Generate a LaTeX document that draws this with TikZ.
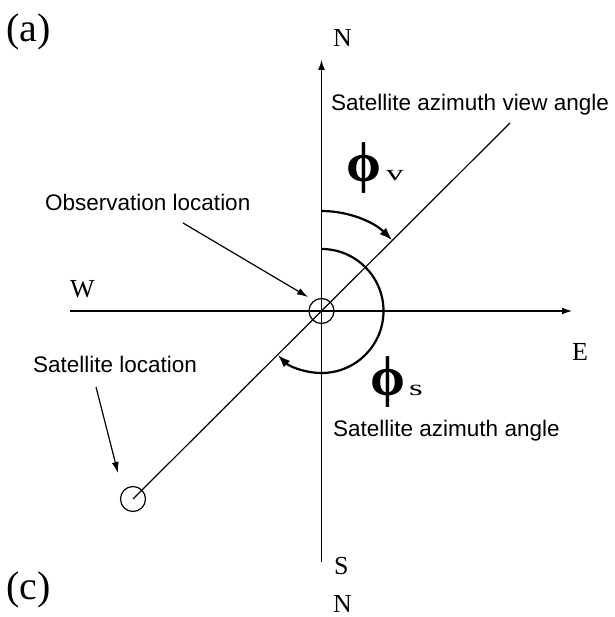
\documentclass[tikz,border=0pt]{standalone}
\usepackage{fontspec}
\usepackage{graphicx}
\setmainfont{Liberation Serif}
\newfontfamily\sansf{Liberation Sans}
\usetikzlibrary{arrows.meta}
\begin{document}
\begin{tikzpicture}[x=1pt,y=1pt,
  lbl/.style={inner sep=0pt,anchor=base west,font=\sansf\fontsize{22.5}{24}\selectfont},
  dir/.style={inner sep=0pt,anchor=base west,font=\fontsize{26}{28}\selectfont},
  panel/.style={inner sep=0pt,anchor=base west,font=\fontsize{40}{42}\selectfont},
  phig/.style={inner sep=0pt,anchor=base west,font=\bfseries\fontsize{56}{58}\selectfont},
  subg/.style={inner sep=0pt,anchor=base west,font=\fontsize{22}{24}\selectfont},
  axis/.style={line width=1.3pt,-{Latex[length=10pt,width=7pt]}},
  angarc/.style={line width=2.2pt,-{Latex[length=13pt,width=9pt]}},
  pointer/.style={line width=1.2pt,-{Latex[length=11pt,width=7pt]}},
  loc/.style={draw,circle,line width=1.2pt,minimum size=25pt,inner sep=0pt}]
\useasboundingbox (0,0) rectangle (614,617);
% centre and locations
\coordinate (O) at (321.5,306);
\node[loc] (obs) at (O) {};
\node[loc] (sat) at (133,118) {};
% axes
\coordinate (Ntip) at (321.5,557);
\coordinate (Send) at (321.5,55);
\coordinate (Wend) at (70,306);
\coordinate (Etip) at (572,306);
\draw[axis] (Send) -- (Ntip);
\draw[axis] (Wend) -- (Etip);
% line of sight
\coordinate (Vend) at (510,494);
\draw[line width=1.2pt] (sat.center) -- (Vend);
% angle arcs
\draw[angarc] (321.5,406) arc[start angle=90,end angle=45,radius=100pt];
\draw[angarc] (321.5,368) arc[start angle=90,end angle=-135,radius=62pt];
% labels
\node[lbl] (tview) at (331,506) {Satellite azimuth view angle};
\node[lbl] (tobs) at (45,406) {Observation location};
\node[lbl] (tsat) at (33,244) {Satellite location};
\node[lbl] (taz) at (333,180) {Satellite azimuth angle};
\node[dir] (lN) at (333,570) {N};
\node[dir] (lW) at (70,319) {W};
\node[dir] (lE) at (572,256) {E};
\node[dir] (lS) at (334,42) {S};
\node[dir] (lN2) at (333,5) {N};
\node[panel] (pa) at (6,575) {(a)};
\node[panel] (pc) at (6,17) {(c)};
\node[phig] (phv) at (346,435) {ϕ};
\node[subg] (sv) at (386,436) {\scalebox{1.6}[1]{v}};
\node[phig] (phs) at (370,221) {ϕ};
\node[subg] (ss) at (409,221) {\scalebox{1.6}[1]{s}};
% pointers
\coordinate (po1) at (183,394);
\coordinate (po2) at (308,320);
\draw[pointer] (po1) -- (po2);
\coordinate (ps1) at (96,230);
\coordinate (ps2) at (118,144);
\draw[pointer] (ps1) -- (ps2);
\end{tikzpicture}
\end{document}
